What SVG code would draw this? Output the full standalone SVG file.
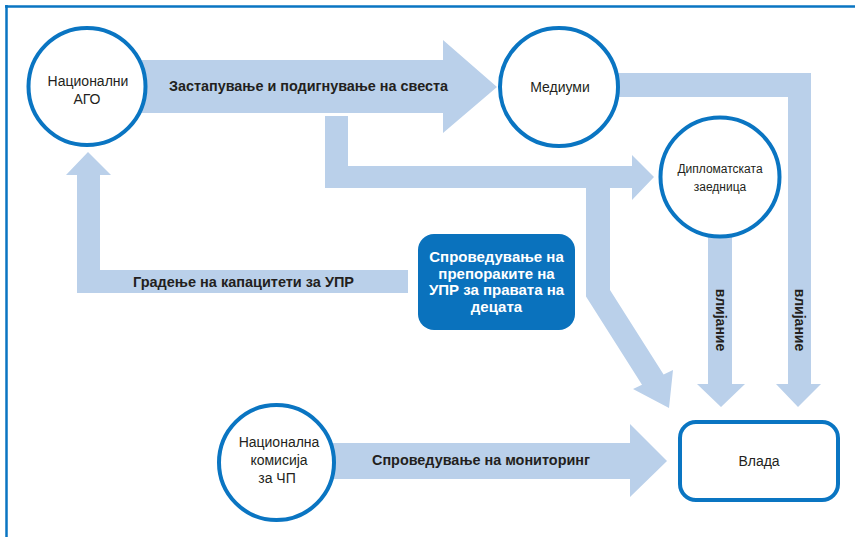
<svg xmlns="http://www.w3.org/2000/svg" width="855" height="537" viewBox="0 0 855 537">
<style>
.arrow{fill:#bad0ea;stroke:none}
.node{fill:#fff;stroke:#0a75c2;stroke-width:4}
.lbl{font-family:"Liberation Sans",Arial,sans-serif;font-size:14px;fill:#231f20;text-anchor:middle}
.sm{font-size:12px}
.bold{font-family:"Liberation Sans",Arial,sans-serif;font-size:14px;font-weight:bold;fill:#231f20}
.wt{font-family:"Liberation Sans",Arial,sans-serif;font-size:15px;font-weight:bold;fill:#fff;text-anchor:middle}
</style>
<rect x="0" y="0" width="855" height="537" fill="#fff"/>
<path d="M5,6.5 H855 M6.5,5 V537" fill="none" stroke="#0a75c2" stroke-width="2.5"/>
<g id="connectors">
  <polygon class="arrow" points="140,60 443,60 443,40 497,87 443,133 443,113 140,113"/>
  <polygon class="arrow" points="610,73 811,73 811,384 821,384 798,407 776,384 788,384 788,97 610,97"/>
  <polygon class="arrow" points="325,116 348,116 348,166 632,166 632,155 654,177 632,200 632,188 610,188 610,290 663.6,374.5 673,370 669,408 633,389 642,384.7 586,296.5 586,188 325,188"/>
  <polygon class="arrow" points="708,230 732,230 732,384 745,384 721,407 697,384 708,384"/>
  <polygon class="arrow" points="408,270 100,270 100,175 111,175 88,152 66,175 77,175 77,293 408,293"/>
  <polygon class="arrow" points="330,443 630,443 630,424 667,461 630,497 630,479 330,479"/>
  <text class="bold" x="169" y="91" textLength="279" lengthAdjust="spacingAndGlyphs">Застапување и подигнување на свеста</text>
  <text class="bold" x="133" y="287" textLength="221" lengthAdjust="spacingAndGlyphs">Градење на капацитети за УПР</text>
  <text class="bold" x="372" y="465" textLength="218" lengthAdjust="spacingAndGlyphs">Спроведување на мониторинг</text>
  <text class="bold" transform="translate(720,320) rotate(90)" x="0" y="4" text-anchor="middle">влијание</text>
  <text class="bold" transform="translate(799,320) rotate(90)" x="0" y="4" text-anchor="middle">влијание</text>
</g>
<g id="ago">
  <circle class="node" cx="87" cy="86.5" r="58.5"/>
  <text class="lbl" x="88" y="86">Национални</text>
  <text class="lbl" x="87" y="104">АГО</text>
</g>
<g id="mediumi">
  <circle class="node" cx="559" cy="87" r="59"/>
  <text class="lbl" x="560" y="92">Медиуми</text>
</g>
<g id="diplomatska">
  <circle class="node" cx="720" cy="177" r="59.5"/>
  <text class="lbl sm" x="720" y="173">Дипломатската</text>
  <text class="lbl sm" x="720" y="191">заедница</text>
</g>
<g id="sproveduvanje">
  <rect x="418" y="234" width="157" height="96" rx="16" fill="#0a72bd"/>
  <text class="wt" x="496.5" y="262">Спроведување на</text>
  <text class="wt" x="496.5" y="278.5">препораките на</text>
  <text class="wt" x="496.5" y="295">УПР за правата на</text>
  <text class="wt" x="496.5" y="311.5">децата</text>
</g>
<g id="komisija">
  <circle class="node" cx="276.5" cy="462.5" r="57.5"/>
  <text class="lbl" x="279" y="447">Национална</text>
  <text class="lbl" x="279" y="465">комисија</text>
  <text class="lbl" x="277" y="483">за ЧП</text>
</g>
<g id="vlada">
  <rect class="node" x="680" y="422" width="158" height="78" rx="16"/>
  <text class="lbl" x="759" y="466">Влада</text>
</g>
</svg>
